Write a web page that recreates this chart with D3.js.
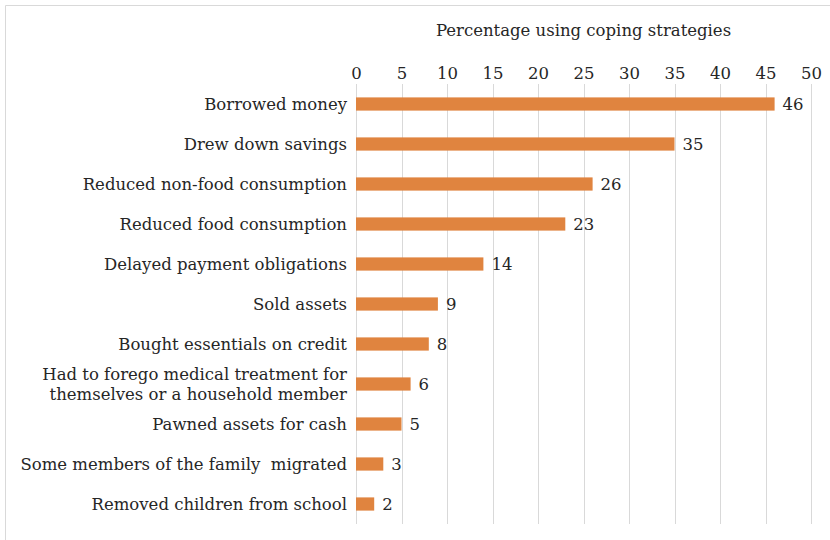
<!DOCTYPE html>
<html>
<head>
<meta charset="utf-8">
<script src="https://cdn.jsdelivr.net/npm/d3@7"></script>
<style>
  html, body { margin: 0; padding: 0; background: #fff; }
  svg { display: block; }
</style>
</head>
<body>
<svg id="chart" width="830" height="540"></svg>
<script>
// Coping strategies and share of households using each (%)
const categories = [
  "Borrowed money",
  "Drew down savings",
  "Reduced non-food consumption",
  "Reduced food consumption",
  "Delayed payment obligations",
  "Sold assets",
  "Bought essentials on credit",
  "Had to forego medical treatment for\nthemselves or a household member",
  "Pawned assets for cash",
  "Some members of the family  migrated",
  "Removed children from school"
];
const values = [46, 35, 26, 23, 14, 9, 8, 6, 5, 3, 2];
const xTicks = [0, 5, 10, 15, 20, 25, 30, 35, 40, 45, 50];
const axisTitle = "Percentage using coping strategies";

const FONT = "'DejaVu Serif', serif";
const FS = 16.5;
const INK = "#262626";

const svg = d3.select("#chart");
const W = 830, H = 540;
const plot = { left: 356, right: 811, top: 84, bottom: 524 };

// frame
svg.append("path")
  .attr("d", `M5.5,${H} V5.5 H${W}`)
  .attr("fill", "none")
  .attr("stroke", "#d9d9d9")
  .attr("stroke-width", 1);

const x = d3.scaleLinear().domain([0, 50]).range([plot.left, plot.right]);
const y = d3.scaleBand().domain(categories).range([plot.top, plot.bottom]).paddingInner(0.67).paddingOuter(0.335);

function styleText(sel) {
  return sel.style("font-family", FONT).style("font-size", FS + "px").style("fill", INK);
}

// vertical gridlines
svg.append("g")
  .selectAll("line")
  .data(xTicks)
  .join("line")
  .attr("x1", d => Math.round(x(d)) + 0.5)
  .attr("x2", d => Math.round(x(d)) + 0.5)
  .attr("y1", plot.top)
  .attr("y2", plot.bottom)
  .attr("stroke", "#d9d9d9")
  .attr("stroke-width", 1);

// top axis labels
const axis = d3.axisTop(x).tickValues(xTicks).tickSize(0).tickPadding(0);
const gAxis = svg.append("g")
  .attr("transform", `translate(0,79)`)
  .call(axis);
gAxis.select(".domain").remove();
gAxis.selectAll("text").call(styleText);

// axis title
svg.append("text")
  .attr("x", (plot.left + plot.right) / 2)
  .attr("y", 36)
  .attr("text-anchor", "middle")
  .call(styleText)
  .text(axisTitle);

// bars
svg.append("g")
  .selectAll("rect")
  .data(values)
  .join("rect")
  .attr("x", x(0))
  .attr("y", (d, i) => y(categories[i]))
  .attr("width", d => x(d) - x(0))
  .attr("height", y.bandwidth())
  .attr("fill", "#e0843f");

// value labels
svg.append("g")
  .selectAll("text")
  .data(values)
  .join("text")
  .attr("x", d => x(d) + 8)
  .attr("y", (d, i) => y(categories[i]) + y.bandwidth() / 2)
  .attr("dy", "0.35em")
  .call(styleText)
  .text(d => d);

// category labels (multi-line where needed)
const catG = svg.append("g");
categories.forEach(c => {
  const lines = c.split("\n");
  const cy = y(c) + y.bandwidth() / 2;
  const lh = 20;
  const t = catG.append("text")
    .attr("x", 347)
    .attr("text-anchor", "end")
    .call(styleText)
    .style("white-space", "pre");
  lines.forEach((ln, k) => {
    t.append("tspan")
      .attr("x", 347)
      .attr("y", cy + (k - (lines.length - 1) / 2) * lh)
      .attr("dy", "0.35em")
      .text(ln);
  });
});
</script>
</body>
</html>
